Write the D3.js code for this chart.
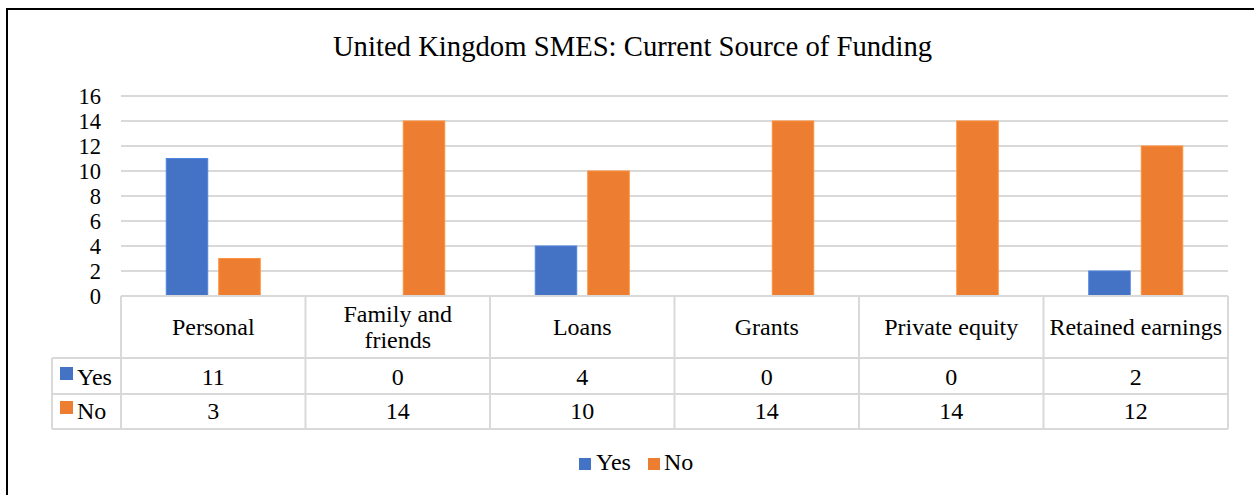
<!DOCTYPE html>
<html>
<head>
<meta charset="utf-8">
<script src="https://cdn.jsdelivr.net/npm/d3@7"></script>
<style>
  html, body { margin: 0; padding: 0; background: #fff; }
  svg { display: block; }
</style>
</head>
<body>
<script>
const title = "United Kingdom SMES: Current Source of Funding";
const categories = ["Personal", "Family and friends", "Loans", "Grants", "Private equity", "Retained earnings"];
const categoryLines = [["Personal"], ["Family and", "friends"], ["Loans"], ["Grants"], ["Private equity"], ["Retained earnings"]];
const seriesNames = ["Yes", "No"];
const yesValues = [11, 0, 4, 0, 0, 2];
const noValues = [3, 14, 10, 14, 14, 12];
const yTicks = [0, 2, 4, 6, 8, 10, 12, 14, 16];
const colors = ["#4472C4", "#ED7D31"];

const FONT = '"Liberation Serif", "Times New Roman", Tinos, serif';
const W = 1254, H = 495;
const svg = d3.select("body").append("svg").attr("width", W).attr("height", H);

// outer chart border
svg.append("rect").attr("x", 7).attr("y", 9).attr("width", 1300).attr("height", 600)
  .attr("fill", "#fff").attr("stroke", "#000").attr("stroke-width", 2);

// title
svg.append("text").attr("x", 632.5).attr("y", 56).attr("text-anchor", "middle")
  .style("font-family", FONT).style("font-size", "28.7px").attr("fill", "#000").text(title);

const plotLeft = 121, plotRight = 1228, plotTop = 96, plotBottom = 296;
const x = d3.scaleBand().domain(categories).range([plotLeft, plotRight]).padding(0);
const y = d3.scaleLinear().domain([0, 16]).range([plotBottom, plotTop]);
const groupHalf = 47;
const xs = d3.scaleBand().domain(seriesNames).range([-groupHalf, groupHalf]).paddingInner(0.21).paddingOuter(0);

// gridlines
svg.append("g").selectAll("line").data(yTicks).join("line")
  .attr("x1", plotLeft).attr("x2", plotRight)
  .attr("y1", d => y(d)).attr("y2", d => y(d))
  .attr("stroke", "#d9d9d9").attr("stroke-width", 2);

// y axis labels
const yAxis = d3.axisLeft(y).tickValues(yTicks).tickSize(0).tickPadding(0);
const ga = svg.append("g").attr("transform", "translate(101,0)").call(yAxis);
ga.select(".domain").remove();
ga.attr("font-family", null).attr("font-size", null);
ga.selectAll("text").style("font-size", "22.5px").style("font-family", FONT).attr("fill", "#000");

// bars
const seriesData = [yesValues, noValues];
seriesNames.forEach((s, si) => {
  svg.append("g").selectAll("rect").data(categories).join("rect")
    .attr("x", (c) => x(c) + x.bandwidth() / 2 + xs(s))
    .attr("width", xs.bandwidth())
    .attr("y", (c, i) => y(seriesData[si][i]))
    .attr("height", (c, i) => y(0) - y(seriesData[si][i]))
    .attr("fill", colors[si])
    .attr("stroke", d3.color(colors[si]).brighter(0.4))
    .attr("stroke-width", 1)
    .style("display", (c, i) => seriesData[si][i] === 0 ? "none" : null);
});

// data table
const tblTop = plotBottom, rowHeader = 358, rowYes = 394, rowNo = 429, legLeft = 52;
const tg = svg.append("g").attr("stroke", "#d9d9d9").attr("stroke-width", 2);
[[plotLeft, tblTop], [legLeft, rowHeader], [legLeft, rowYes], [legLeft, rowNo]].forEach(([x0, yy]) => {
  tg.append("line").attr("x1", x0).attr("x2", plotRight).attr("y1", yy).attr("y2", yy);
});
tg.append("line").attr("x1", legLeft).attr("x2", legLeft).attr("y1", rowHeader).attr("y2", rowNo);
const vx = categories.map(c => x(c)).concat([plotRight]);
vx.forEach(v => tg.append("line").attr("x1", v).attr("x2", v).attr("y1", tblTop).attr("y2", rowNo));

// header text
categories.forEach((c, i) => {
  const lines = categoryLines[i];
  const cx = x(c) + x.bandwidth() / 2;
  const t = svg.append("text").attr("text-anchor", "middle")
    .style("font-family", FONT).style("font-size", "24px").attr("fill", "#000");
  if (lines.length === 1) {
    t.append("tspan").attr("x", cx).attr("y", 335).text(lines[0]);
  } else {
    t.append("tspan").attr("x", cx).attr("y", 322).text(lines[0]);
    t.append("tspan").attr("x", cx).attr("y", 348).text(lines[1]);
  }
});

// value rows
const rowBase = [385, 419];
seriesNames.forEach((s, si) => {
  svg.append("g").selectAll("text").data(categories).join("text")
    .attr("x", c => x(c) + x.bandwidth() / 2)
    .attr("y", rowBase[si])
    .attr("text-anchor", "middle")
    .style("font-family", FONT).style("font-size", "24px").attr("fill", "#000")
    .text((c, i) => seriesData[si][i]);
  svg.append("rect").attr("x", 60).attr("y", rowBase[si] - 18).attr("width", 13).attr("height", 13).attr("fill", colors[si]);
  svg.append("text").attr("x", 77).attr("y", rowBase[si])
    .style("font-family", FONT).style("font-size", "24px").attr("fill", "#000").text(s);
});

// bottom legend
const legItems = [{ sx: 579, tx: 596 }, { sx: 648, tx: 664 }];
seriesNames.forEach((s, si) => {
  svg.append("rect").attr("x", legItems[si].sx).attr("y", 458).attr("width", 12).attr("height", 12).attr("fill", colors[si]);
  svg.append("text").attr("x", legItems[si].tx).attr("y", 470)
    .style("font-family", FONT).style("font-size", "24px").attr("fill", "#000").text(s);
});
</script>
</body>
</html>
